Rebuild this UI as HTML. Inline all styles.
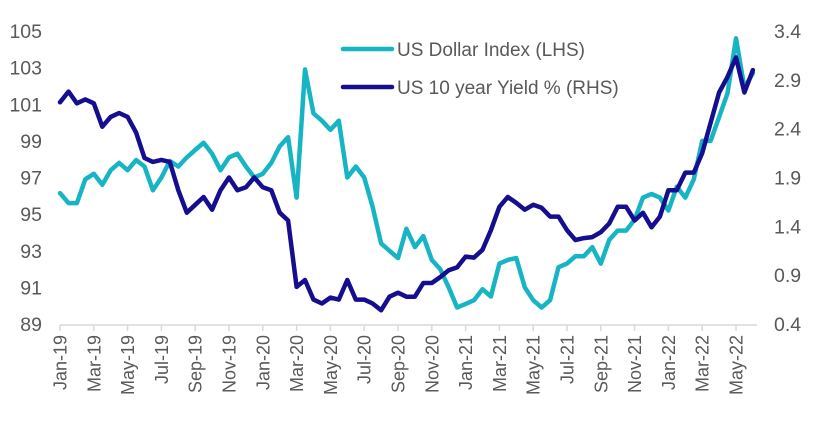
<!DOCTYPE html>
<html><head><meta charset="utf-8"><style>
body{margin:0;background:#fff}
svg{display:block;font-family:"Liberation Sans",Arial,sans-serif}
</style></head><body>
<svg id="chart" width="820" height="432" viewBox="0 0 820 432" xmlns="http://www.w3.org/2000/svg">
<g id="axes"></g>
<g id="series"></g>
<g>
<line x1="343" y1="49" x2="392" y2="49" stroke="#17b5c3" stroke-width="4.5" stroke-linecap="round"/>
<text x="397" y="56" font-size="19" fill="#595959">US Dollar Index (LHS)</text>
<line x1="343" y1="87" x2="392" y2="87" stroke="#150e8f" stroke-width="4.5" stroke-linecap="round"/>
<text x="397" y="94" font-size="19" fill="#595959">US 10 year Yield % (RHS)</text>
</g>
</svg>
<script>
const monthLabels=["Jan-19","Mar-19","May-19","Jul-19","Sep-19","Nov-19","Jan-20","Mar-20","May-20","Jul-20","Sep-20","Nov-20","Jan-21","Mar-21","May-21","Jul-21","Sep-21","Nov-21","Jan-22","Mar-22","May-22"];
const leftTicks=[89,91,93,95,97,99,101,103,105];
const rightTicks=[0.4,0.9,1.4,1.9,2.4,2.9,3.4];
// half-month observations starting Jan-19
const dxyValues=[96.15,95.6,95.6,96.9,97.2,96.6,97.4,97.8,97.4,97.95,97.6,96.3,97.0,97.9,97.6,98.1,98.5,98.9,98.3,97.4,98.1,98.3,97.6,97.0,97.2,97.8,98.7,99.2,95.9,102.9,100.5,100.1,99.6,100.1,97.0,97.6,97.0,95.4,93.4,93.0,92.6,94.2,93.2,93.8,92.5,92.0,91.0,89.9,90.1,90.3,90.9,90.5,92.3,92.5,92.6,91.0,90.3,89.9,90.3,92.1,92.3,92.7,92.7,93.2,92.3,93.6,94.1,94.1,94.7,95.9,96.1,95.9,95.2,96.5,95.9,96.9,99.0,99.0,100.3,101.6,104.6,101.9,102.7];
const yieldValues=[2.67,2.78,2.66,2.7,2.66,2.42,2.52,2.56,2.52,2.36,2.10,2.06,2.08,2.06,1.77,1.54,1.62,1.70,1.57,1.77,1.90,1.77,1.80,1.90,1.80,1.77,1.54,1.46,0.78,0.85,0.65,0.61,0.67,0.65,0.85,0.65,0.65,0.61,0.54,0.68,0.72,0.68,0.68,0.82,0.82,0.88,0.95,0.98,1.09,1.08,1.16,1.36,1.60,1.70,1.64,1.57,1.62,1.59,1.50,1.50,1.36,1.26,1.28,1.29,1.34,1.43,1.60,1.60,1.46,1.54,1.39,1.50,1.77,1.77,1.95,1.95,2.15,2.46,2.77,2.93,3.13,2.77,3.00];
const NS="http://www.w3.org/2000/svg";
const X0=60,PM=16.9,TOP=31,BOT=324;
const xScale=m=>X0+m*PM;
const yL=v=>TOP+(105-v)*(BOT-TOP)/16;
const yR=v=>TOP+(3.4-v)*(BOT-TOP)/3;
function mk(tag,attrs,parent){const e=document.createElementNS(NS,tag);for(const k in attrs)e.setAttribute(k,attrs[k]);parent.appendChild(e);return e;}
const axes=document.getElementById('axes');
let ax=mk('line',{x1:X0,y1:325,x2:757,y2:325,stroke:'#d9d9d9','stroke-width':1.5},axes);


monthLabels.forEach((lab,i)=>{
  const x=xScale(i*2);
  const t=mk('line',{x1:x,y1:325,x2:x,y2:331,stroke:'#d9d9d9','stroke-width':1.5},axes);
  
  
  const tx=mk('text',{x:0,y:0,'font-size':18,fill:'#595959','text-anchor':'end',transform:`translate(${x+6.5},335) rotate(-90)`},axes);
  tx.textContent=lab;
  
  
});
leftTicks.forEach(v=>{
  const t=mk('text',{x:42,y:yL(v)+7,'font-size':19.5,fill:'#595959','text-anchor':'end'},axes);
  t.textContent=v;
  
  
});
rightTicks.forEach(v=>{
  const t=mk('text',{x:774,y:yR(v)+7,'font-size':19.5,fill:'#595959'},axes);
  t.textContent=v.toFixed(1);
  
  
});
const series=document.getElementById('series');
function line(vals,sc,color,name){
  const d=vals.map((v,i)=>(i?'L':'M')+xScale(i/2).toFixed(1)+','+sc(v).toFixed(1)).join('');
  const p=mk('path',{d:d,fill:'none',stroke:color,'stroke-width':4.5,'stroke-linejoin':'round','stroke-linecap':'round'},series);
  
  
}
line(dxyValues,yL,'#17b5c3','dollar-index-line');
line(yieldValues,yR,'#150e8f','yield-line');
</script>
</body></html>
